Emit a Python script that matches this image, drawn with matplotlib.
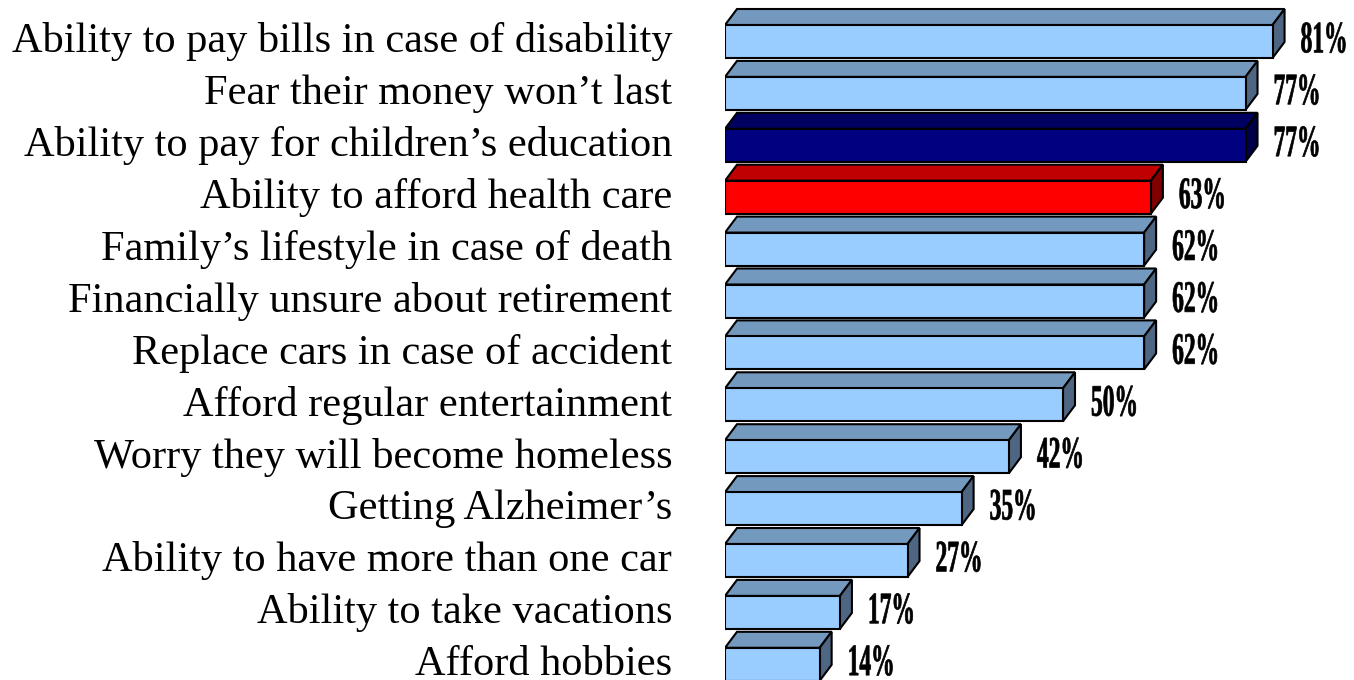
import matplotlib
matplotlib.use("Agg")
import matplotlib.pyplot as plt
from matplotlib.patches import Polygon, PathPatch
from matplotlib.textpath import TextPath
from matplotlib.font_manager import FontProperties
import matplotlib.transforms as mtransforms

labels = ["Ability to pay bills in case of disability",
          "Fear their money won\u2019t last",
          "Ability to pay for children\u2019s education",
          "Ability to afford health care",
          "Family\u2019s lifestyle in case of death",
          "Financially unsure about retirement",
          "Replace cars in case of accident",
          "Afford regular entertainment",
          "Worry they will become homeless",
          "Getting Alzheimer\u2019s",
          "Ability to have more than one car",
          "Ability to take vacations",
          "Afford hobbies"]
values = [81, 77, 77, 63, 62, 62, 62, 50, 42, 35, 27, 17, 14]

# front / top / side colours
blue = ("#99CCFF", "#7499BF", "#4F6682")
navy = ("#000080", "#000060", "#000048")
red = ("#FF0000", "#C00000", "#800000")
styles = [blue, blue, navy, red] + [blue] * 9

W, H = 1354, 680
fig = plt.figure(figsize=(W / 100, H / 100), dpi=100)
left_px = 725
ax = fig.add_axes([left_px / W, 0, 1 - left_px / W, 1])
px_per_pct = 6.76
pitch = 51.9
ax.set_xlim(0, (W - left_px) / px_per_pct)
ax.set_ylim((H - 41.5) / pitch, -41.5 / pitch)

h = 33 / pitch          # front face height
dx = 12 / px_per_pct    # depth in x
dy = 16 / pitch         # depth in y

for i, (v, st) in enumerate(zip(values, styles)):
    top, bot = i - h / 2, i + h / 2
    ax.add_patch(Polygon([(0, top), (v, top), (v + dx, top - dy), (dx, top - dy)],
                         closed=True, fc=st[1], ec="black", lw=1.5))
    ax.add_patch(Polygon([(v, top), (v + dx, top - dy), (v + dx, bot - dy), (v, bot)],
                         closed=True, fc=st[2], ec="black", lw=1.5))
    ax.add_patch(Polygon([(0, top), (v, top), (v, bot), (0, bot)],
                         closed=True, fc=st[0], ec="black", lw=1.5))

# condensed bold value labels
fp = FontProperties(family="Liberation Serif", weight="bold")
em = 45
for i, v in enumerate(values):
    tp = TextPath((0, 0), f"{v}%", size=1, prop=fp)
    tr = (mtransforms.Affine2D().scale(23.5, em).translate(28, -0.33 * em + 4)
          + mtransforms.ScaledTranslation(v, i, ax.transData))
    fig.add_artist(PathPatch(tp, transform=tr, fc="black", ec="black", lw=0.5))

ax.set_yticks(range(len(labels)))
ax.set_yticklabels(labels, fontsize=30.5, family="Liberation Serif")
ax.tick_params(axis="y", length=0, pad=38)
shift = mtransforms.ScaledTranslation(0, 3 / 72, fig.dpi_scale_trans)
for t in ax.get_yticklabels():
    t.set_transform(t.get_transform() + shift)
ax.set_xticks([])
for s in ax.spines.values():
    s.set_visible(False)

fig.savefig("out.png", dpi=100)
